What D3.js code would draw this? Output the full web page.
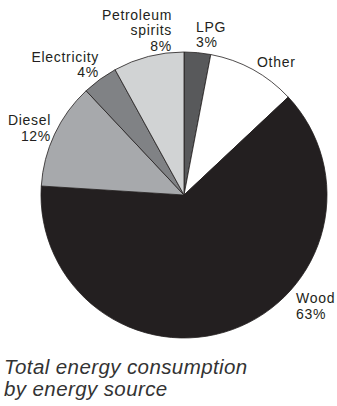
<!DOCTYPE html>
<html>
<head>
<meta charset="utf-8">
<script src="https://cdn.jsdelivr.net/npm/d3@7"></script>
<style>
  html, body { margin: 0; padding: 0; background: #fff; }
  svg { display: block; }
  text { font-family: "Liberation Sans", Arial, sans-serif; fill: #231f20; }
</style>
</head>
<body>
<script>
// Energy sources, clockwise from 12 o'clock
const categories = ["LPG", "Other", "Wood", "Diesel", "Electricity", "Petroleum spirits"];
const shares = [3, 10, 63, 12, 4, 8];
const fills = ["#58595b", "#ffffff", "#231f20", "#a7a9ac", "#808285", "#d1d3d4"];
// Label lines per slice (Other carries no percentage)
const labelLines = [
  ["LPG", "3%"],
  ["Other"],
  ["Wood", "63%"],
  ["Diesel", "12%"],
  ["Electricity", "4%"],
  ["Petroleum", "spirits", "8%"]
];
const captionLines = ["Total energy consumption", "by energy source"];

const W = 337, H = 406;
const cx = 184, cy = 195, R = 143;

const svg = d3.select("body").append("svg")
  .attr("width", W).attr("height", H);

const data = categories.map((c, i) => ({ name: c, value: shares[i], fill: fills[i], lines: labelLines[i] }));

const pie = d3.pie().value(d => d.value).sort(null);
const arc = d3.arc().innerRadius(0).outerRadius(R);
const arcs = pie(data);

const g = svg.append("g").attr("transform", `translate(${cx},${cy})`);
g.selectAll("path").data(arcs).join("path")
  .attr("d", arc)
  .attr("fill", d => d.data.fill)
  .attr("stroke", "#231f20")
  .attr("stroke-width", 0.8)
  .attr("stroke-linejoin", "round");

// Label placement and alignment per slice
const labelPos = {
  "LPG": { x: 196, y: 31.5, anchor: "start" },
  "Other": { x: 257, y: 67, anchor: "start" },
  "Wood": { x: 296, y: 303, anchor: "start" },
  "Diesel": { x: 51, y: 125, anchor: "end" },
  "Electricity": { x: 99, y: 61.5, anchor: "end" },
  "Petroleum spirits": { x: 172, y: 19.5, anchor: "end" }
};
const lineH = 15.8;

const labels = svg.append("g").attr("class", "labels");
arcs.forEach(a => {
  const p = labelPos[a.data.name];
  const t = labels.append("text")
    .attr("x", p.x).attr("y", p.y)
    .attr("text-anchor", p.anchor)
    .style("font-size", "14px")
    .style("letter-spacing", "0.7px");
  a.data.lines.forEach((ln, i) => {
    t.append("tspan").attr("x", p.x).attr("y", p.y + i * lineH).text(ln);
  });
});

// Caption
const cap = svg.append("text")
  .attr("x", 4).attr("y", 374)
  .style("font-size", "20.5px")
  .style("font-style", "italic")
  .style("letter-spacing", "0.4px")
  .style("fill", "#333");
captionLines.forEach((ln, i) => {
  cap.append("tspan").attr("x", 4).attr("y", 374 + i * 22).text(ln);
});
</script>
</body>
</html>
